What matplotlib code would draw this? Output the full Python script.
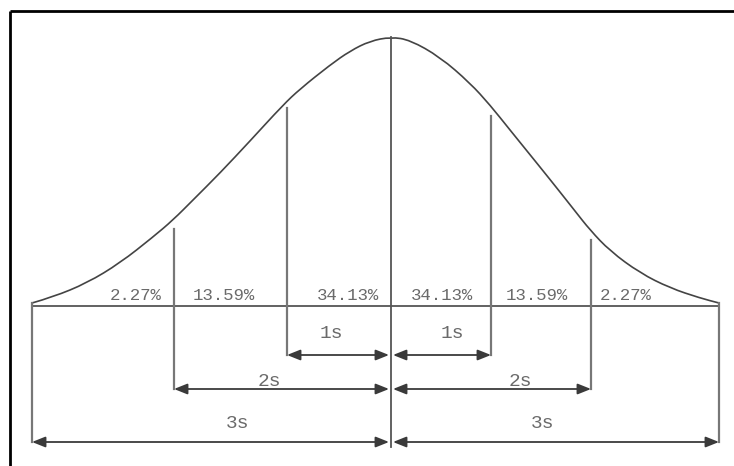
import matplotlib
matplotlib.use("Agg")
import matplotlib.pyplot as plt
from matplotlib.path import Path
from matplotlib.patches import PathPatch

# diagram units: x in px from the left, y = height above the baseline (px)
curve_x = [32, 53, 87, 120, 153, 173, 193, 220, 250, 283, 300, 330, 350, 370, 391,
           410, 440, 470, 490, 510, 540, 560, 575, 590, 610, 640, 670, 700, 719]
curve_y = [3, 9, 23, 43, 69, 86, 106, 133, 165, 201, 217, 241, 255, 265, 269,
           266, 249, 223, 201, 176, 139, 114, 95, 76, 55, 33, 18, 8, 3]

center_x = 391
center_top = 269
center_bottom = -141

# sigma markers: 1s, 2s, 3s on each side
left_x = [287, 174, 32]
right_x = [491, 591, 719]
left_top = [198, 77, 3]
right_top = [190, 66, 3]
row_y = [-49, -83, -136]
row_labels = ["1s", "2s", "3s"]
left_label_x = [331, 269, 238]
right_label_x = [452, 520, 543]
label_y = [-27, -75, -117]

pct_labels = ["2.27%", "13.59%", "34.13%", "34.13%", "13.59%", "2.27%"]
pct_x = [136, 224, 348, 442, 537, 626]
pct_y = 11

line_col = "#555555"
text_col = "#6a6a6a"

fig = plt.figure(figsize=(7.34, 4.66), dpi=100)
ax = fig.add_axes([0, 0, 1, 1])
ax.set_xlim(0, 734)
ax.set_ylim(-160, 306)
ax.axis("off")

# smooth bell curve through the read points (quadratic segments)
verts = [(curve_x[0], curve_y[0])]
codes = [Path.MOVETO]
for i in range(1, len(curve_x) - 1):
    mx = (curve_x[i] + curve_x[i + 1]) / 2
    my = (curve_y[i] + curve_y[i + 1]) / 2
    verts += [(curve_x[i], curve_y[i]), (mx, my)]
    codes += [Path.CURVE3, Path.CURVE3]
verts.append((curve_x[-1], curve_y[-1]))
codes.append(Path.LINETO)
ax.add_patch(PathPatch(Path(verts, codes), fill=False, ec="#444444", lw=1.2))

# baseline and center
ax.plot([left_x[2], right_x[2]], [0, 0], color=line_col, lw=1.3)
ax.plot([center_x, center_x], [center_bottom, center_top], color=line_col, lw=1.3)

arrow = dict(arrowstyle="<|-|>,head_length=0.8,head_width=0.32",
             color="#3a3a3a", lw=1.3, shrinkA=0, shrinkB=0, mutation_scale=10)

for i in range(3):
    ax.plot([left_x[i], left_x[i]], [row_y[i], left_top[i]], color="#777777", lw=1.6)
    ax.plot([right_x[i], right_x[i]], [row_y[i], right_top[i]], color="#777777", lw=1.6)
    ax.annotate("", xy=(center_x - 2, row_y[i]), xytext=(left_x[i], row_y[i]),
                arrowprops=arrow)
    ax.annotate("", xy=(right_x[i], row_y[i]), xytext=(center_x + 2, row_y[i]),
                arrowprops=arrow)
    ax.text(left_label_x[i], label_y[i], row_labels[i], ha="center", va="center",
            fontsize=14, family="Liberation Mono", color=text_col)
    ax.text(right_label_x[i], label_y[i], row_labels[i], ha="center", va="center",
            fontsize=14, family="Liberation Mono", color=text_col)

for lab, x in zip(pct_labels, pct_x):
    ax.text(x, pct_y, lab, ha="center", va="center", fontsize=12.5,
            family="Liberation Mono", color=text_col)

# frame (only left and top edges are visible)
ax.plot([10, 10], [-160, 295], color="black", lw=2, solid_capstyle="butt")
ax.plot([10, 734], [295, 295], color="black", lw=2, solid_capstyle="butt")

fig.savefig("out.png", dpi=100)
